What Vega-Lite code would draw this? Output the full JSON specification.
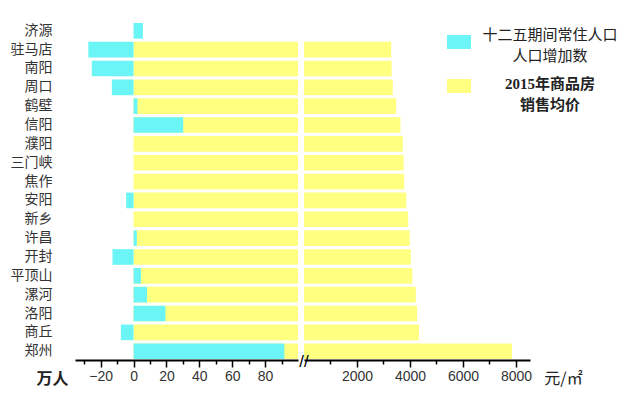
{
  "$schema": "https://vega.github.io/schema/vega-lite/v6.json",
  "padding": {"left": 10, "top": 22, "right": 0, "bottom": 20},
  "background": "white",
  "bounds": "flush",
  "config": {
    "view": {"stroke": null},
    "font": "Noto Sans CJK SC",
    "axis": {"grid": false, "domainColor": "black", "tickColor": "black", "labelColor": "#333333", "labelFont": "Liberation Sans", "labelFontSize": 14, "titleColor": "#222222"}
  },
  "data": {"values": [
    {"city": "济源", "pop": 5.7, "price": null},
    {"city": "驻马店", "pop": -27.5, "price": 3290},
    {"city": "南阳", "pop": -25.4, "price": 3310},
    {"city": "周口", "pop": -13.2, "price": 3350},
    {"city": "鹤壁", "pop": 2.4, "price": 3480},
    {"city": "信阳", "pop": 30.2, "price": 3640},
    {"city": "濮阳", "pop": 0, "price": 3730},
    {"city": "三门峡", "pop": 0, "price": 3760},
    {"city": "焦作", "pop": 0, "price": 3780},
    {"city": "安阳", "pop": -4.5, "price": 3860},
    {"city": "新乡", "pop": 0, "price": 3930},
    {"city": "许昌", "pop": 2, "price": 3990},
    {"city": "开封", "pop": -12.8, "price": 4030},
    {"city": "平顶山", "pop": 4.5, "price": 4090},
    {"city": "漯河", "pop": 8.2, "price": 4220},
    {"city": "洛阳", "pop": 19.4, "price": 4270},
    {"city": "商丘", "pop": -7.7, "price": 4340},
    {"city": "郑州", "pop": 91.7, "price": 7850}
  ]},
  "spacing": 6,
  "resolve": {"scale": {"color": "shared"}},
  "hconcat": [
    {
      "width": 223,
      "height": 338,
      "resolve": {"axis": {"x": "independent"}},
      "encoding": {
        "y": {"field": "city", "type": "nominal", "sort": null,
          "scale": {"domain": ["济源","驻马店","南阳","周口","鹤壁","信阳","濮阳","三门峡","焦作","安阳","新乡","许昌","开封","平顶山","漯河","洛阳","商丘","郑州"], "paddingInner": 0.17, "paddingOuter": 0.05},
          "axis": {"title": null, "domain": false, "ticks": false, "tickSize": 0, "labelPadding": 23, "labelFont": "Noto Sans CJK SC", "labelFontSize": 14, "labelColor": "#333333"}}
      },
      "layer": [
        {
          "mark": {"type": "bar", "clip": true},
          "encoding": {
            "x": {"field": "price", "type": "quantitative", "title": "万人",
              "scale": {"domain": [-35.6, 100], "clamp": true, "nice": false, "zero": false},
              "axis": {"orient": "bottom", "values": [-20,0,20,40,60,80], "domainWidth": 2, "tickWidth": 1.5, "tickSize": 7, "labelPadding": 2, "titleX": -23, "titleY": 18, "titleAlign": "center", "titleBaseline": "middle", "titleFont": "Noto Sans CJK SC", "titleFontSize": 16, "titleFontWeight": "bold"}},
            "color": {"datum": "2015年商品房|销售均价", "type": "nominal",
              "scale": {"domain": ["十二五期间常住人口|人口增加数", "2015年商品房|销售均价"], "range": ["#6CF5F6", "#FFFF80"]},
              "legend": {"orient": "none", "legendX": 372, "legendY": 8, "title": null, "symbolType": "M-1,-0.58H1V0.58H-1Z", "symbolSize": 576, "symbolStrokeWidth": 0, "symbolOpacity": 1, "labelExpr": "split(datum.label, '|')", "labelAlign": "center", "labelOffset": 79, "labelLimit": 400, "labelFont": "Liberation Serif", "labelFontSize": 15, "labelColor": "#222222", "rowPadding": 10,
                "encode": {"labels": {"update": {"fontWeight": {"signal": "datum.value == '2015年商品房|销售均价' ? 'bold' : 'normal'"}, "dy": {"signal": "datum.value == '2015年商品房|销售均价' ? -2 : -7"}, "lineHeight": {"value": 21}, "font": {"value": "Liberation Serif, Noto Sans CJK SC"}}}}}}
          }
        },
        {
          "mark": "bar",
          "encoding": {
            "x": {"field": "pop", "type": "quantitative", "title": null,
              "axis": {"orient": "bottom", "values": [-30,-10,10,30,50,70,90], "labels": false, "domain": false, "tickWidth": 1.5, "tickSize": 4, "title": null}},
            "color": {"datum": "十二五期间常住人口|人口增加数", "type": "nominal"}
          }
        },
        {
          "mark": {"type": "rule", "color": "black", "strokeWidth": 2},
          "encoding": {"x": {"datum": 0, "type": "quantitative", "axis": null}}
        }
      ]
    },
    {
      "width": 226,
      "height": 338,
      "resolve": {"axis": {"x": "independent"}},
      "encoding": {
        "y": {"field": "city", "type": "nominal", "sort": null,
          "scale": {"domain": ["济源","驻马店","南阳","周口","鹤壁","信阳","濮阳","三门峡","焦作","安阳","新乡","许昌","开封","平顶山","漯河","洛阳","商丘","郑州"], "paddingInner": 0.17, "paddingOuter": 0.05},
          "axis": null}
      },
      "layer": [
        {
          "mark": "bar",
          "encoding": {
            "x": {"field": "price", "type": "quantitative", "title": "元/㎡",
              "scale": {"domain": [0, 8530], "nice": false},
              "axis": {"orient": "bottom", "values": [2000,4000,6000,8000], "format": "d", "domainWidth": 2, "tickWidth": 1.5, "tickSize": 7, "labelPadding": 2, "titleX": 259, "titleY": 18, "titleAlign": "center", "titleBaseline": "middle", "titleFont": "Noto Sans CJK SC", "titleFontSize": 16, "titleFontWeight": "normal"}},
            "color": {"datum": "2015年商品房|销售均价", "type": "nominal"}
          }
        },
        {
          "data": {"values": [{"mark": "//"}]},
          "mark": {"type": "text", "fontSize": 17, "font": "Liberation Sans", "color": "black", "dx": 0, "dy": 11},
          "encoding": {"x": {"datum": 0, "type": "quantitative",
              "axis": {"orient": "bottom", "values": [1000,3000,5000,7000], "labels": false, "domain": false, "tickWidth": 1.5, "tickSize": 4, "title": null}},
            "y": {"datum": "郑州", "type": "nominal"}, "text": {"field": "mark"}}
        }
      ]
    }
  ]
}
